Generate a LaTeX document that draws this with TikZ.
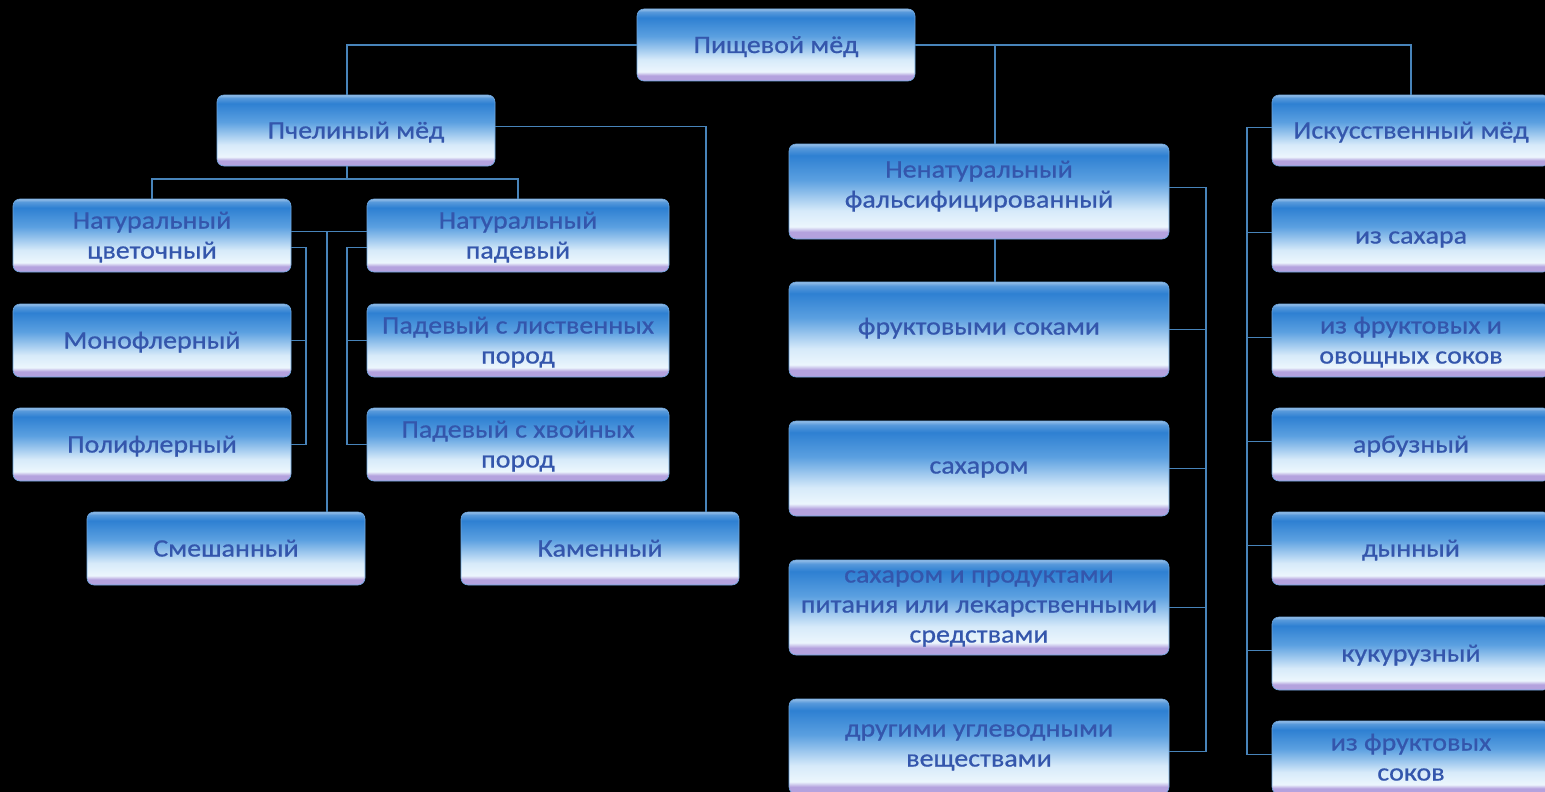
\documentclass[tikz,border=0pt]{standalone}
\usepackage{fontspec}
\setmainfont{Carlito}[FakeStretch=1.12,FakeBold=0.7]
\usetikzlibrary{calc}
\definecolor{btop}{RGB}{46,128,210}
\definecolor{bmid}{RGB}{128,186,236}
\definecolor{bbot}{RGB}{236,246,253}
\definecolor{blav}{RGB}{180,162,222}
\definecolor{txtc}{RGB}{52,86,172}
\definecolor{wirec}{RGB}{72,132,186}
\pgfdeclareverticalshading{boxsh}{100bp}{color(0bp)=(blav); color(25bp)=(blav); color(28.8bp)=(blav); color(31.5bp)=(bbot); color(40bp)=(bbot!80!bmid); color(56bp)=(bmid!55!btop); color(69bp)=(btop); color(73bp)=(btop!80!white); color(75bp)=(btop!50!white); color(100bp)=(btop!50!white)}
\tikzset{
  box/.style={rectangle, rounded corners=7pt, shading=boxsh, draw=btop!70!white, line width=0.6pt,
    inner sep=0pt, outer sep=0pt, text=txtc, font=\fontsize{25}{30}\selectfont, align=center},
  wire/.style={draw=wirec, line width=1.5pt}
}
\newcommand\bx[7][-2pt]{\node[box,minimum width={#5-#3},minimum height={#6-#4}] (#2) at ({(#3+#5)/2},{(#4+#6)/2}) {\raisebox{#1}[\height][\depth]{\begin{tabular}{@{}c@{}}#7\end{tabular}}};}
\begin{document}
\begin{tikzpicture}[x=1pt,y=-1pt]
\useasboundingbox (0,0) rectangle (1545,792);
\fill[black] (0,0) rectangle (1545,792);
\renewcommand\arraystretch{1}
% nodes
\bx{root}{637}{9}{915}{81}{Пищевой мёд}
\bx{pchel}{217}{95}{495}{166}{Пчелиный мёд}
\bx{tsvet}{13}{199}{291}{272}{Натуральный\\цветочный}
\bx{mono}{13}{304}{291}{377}{Монофлерный}
\bx{poly}{13}{408}{291}{481}{Полифлерный}
\bx{padev}{367}{199}{669}{272}{Натуральный\\падевый}
\bx{listv}{367}{304}{669}{377}{Падевый с лиственных\\пород}
\bx{hvoy}{367}{408}{669}{481}{Падевый с хвойных\\пород}
\bx{smesh}{87}{512}{365}{585}{Смешанный}
\bx{kamen}{461}{512}{739}{585}{Каменный}
\bx[5pt]{nenat}{789}{144}{1169}{239}{Ненатуральный\\фальсифицированный}
\bx[1pt]{frukt}{789}{282}{1169}{377}{фруктовыми соками}
\bx[1pt]{sakh}{789}{421}{1169}{516}{сахаром}
\bx[1pt]{sakhprod}{789}{560}{1169}{655}{сахаром и продуктами\\питания или лекарственными\\средствами}
\bx[1pt]{drug}{789}{699}{1169}{794}{другими углеводными\\веществами}
\bx{iskus}{1272}{95}{1550}{166}{Искусственный мёд}
\bx{izsakh}{1272}{199}{1550}{272}{из сахара}
\bx{izfo}{1272}{304}{1550}{377}{из фруктовых и\\овощных соков}
\bx{arbuz}{1272}{408}{1550}{481}{арбузный}
\bx{dyn}{1272}{512}{1550}{585}{дынный}
\bx{kuk}{1272}{617}{1550}{690}{кукурузный}
\bx{izfs}{1272}{721}{1550}{794}{из фруктовых\\соков}
% helper coordinates
\coordinate (px) at (347,179);
\coordinate (sj) at (327,231.5);
\coordinate (tb) at (306,0);
\coordinate (pb) at (347,0);
\coordinate (kx) at (706,0);
\coordinate (nx) at (995,0);
\coordinate (nb) at (1206,0);
\coordinate (ib) at (1247,0);
% connectors
\draw[wire] (root.west) -| (pchel.north -| px);
\draw[wire] (root.east) -| (iskus.north);
\draw[wire] (nenat.north -| nx) -- (root.east -| nx);
\draw[wire] (pchel.south -| px) -- (px);
\draw[wire] (tsvet.north) |- (px) -| (padev.north);
\draw[wire] ([yshift=4pt]tsvet.east) -- ([yshift=4pt]padev.west);
\draw[wire] (sj) -- (smesh.north -| sj);
\draw[wire] ([yshift=-12pt]tsvet.east) -| (poly.east -| tb) -- (poly.east);
\draw[wire] (mono.east) -- (mono.east -| tb);
\draw[wire] ([yshift=-12pt]padev.west) -| (hvoy.west -| pb) -- (hvoy.west);
\draw[wire] (listv.west) -- (listv.west -| pb);
\draw[wire] ([yshift=4pt]pchel.east) -| (kamen.north -| kx);
\draw[wire] (nenat.south -| nx) -- (frukt.north -| nx);
\draw[wire] ([yshift=4pt]nenat.east) -| ([yshift=-5pt]drug.east -| nb) -- ([yshift=-5pt]drug.east);
\draw[wire] (frukt.east) -- (frukt.east -| nb);
\draw[wire] (sakh.east) -- (sakh.east -| nb);
\draw[wire] (sakhprod.east) -- (sakhprod.east -| nb);
\draw[wire] ([yshift=3pt]iskus.west) -| ([yshift=3pt]izfs.west -| ib) -- ([yshift=3pt]izfs.west);
\draw[wire] ([yshift=3pt]izsakh.west) -- ([yshift=3pt]izsakh.west -| ib);
\draw[wire] ([yshift=3pt]izfo.west) -- ([yshift=3pt]izfo.west -| ib);
\draw[wire] ([yshift=3pt]arbuz.west) -- ([yshift=3pt]arbuz.west -| ib);
\draw[wire] ([yshift=3pt]dyn.west) -- ([yshift=3pt]dyn.west -| ib);
\draw[wire] ([yshift=3pt]kuk.west) -- ([yshift=3pt]kuk.west -| ib);
\end{tikzpicture}
\end{document}
